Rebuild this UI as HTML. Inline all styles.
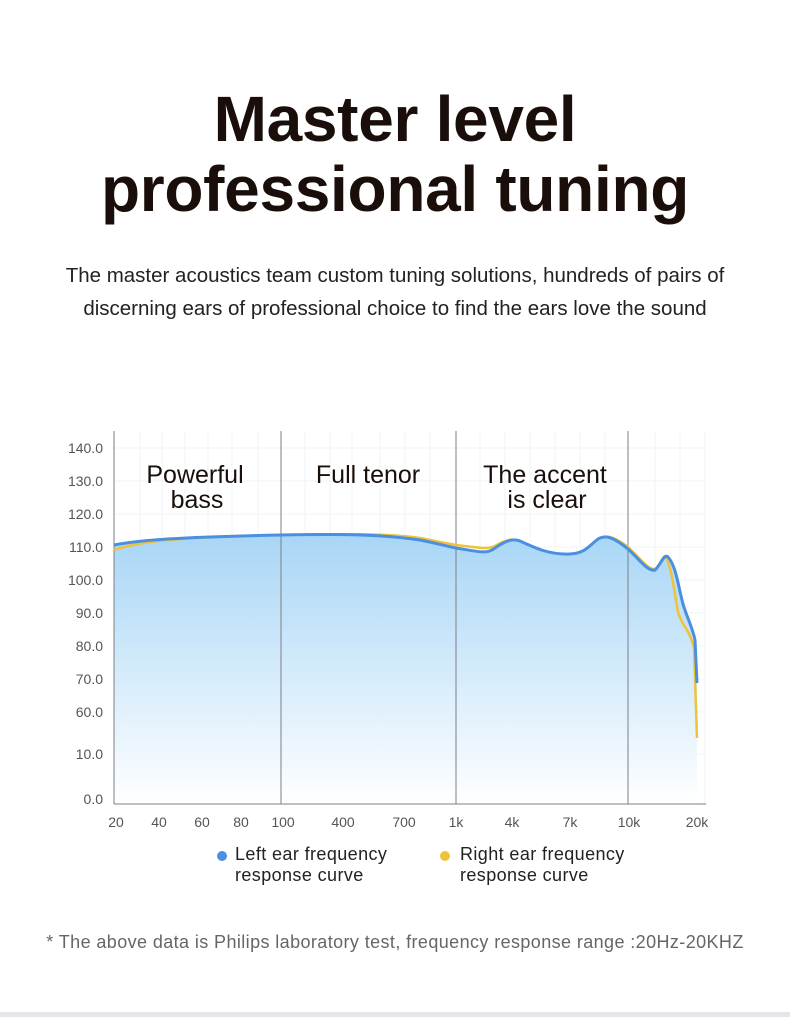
<!DOCTYPE html>
<html><head><meta charset="utf-8"><style>
body{margin:0;width:790px;height:1017px;background:#fff;font-family:"Liberation Sans",sans-serif;position:relative;overflow:hidden}
.t{position:absolute;left:0;width:790px;text-align:center;color:#1a0e0a;font-weight:bold;font-size:64px;letter-spacing:-0.3px;line-height:70px}
.s{position:absolute;left:0;width:790px;text-align:center;color:#222;font-size:20.5px;line-height:33px}
</style></head><body>
<div class="t" style="top:84px">Master level<br>professional tuning</div>
<div class="s" style="top:259px">The master acoustics team custom tuning solutions, hundreds of pairs of<br>discerning ears of professional choice to find the ears love the sound</div>
<svg width="790" height="1017" style="position:absolute;left:0;top:0" font-family="Liberation Sans, sans-serif">
<defs><linearGradient id="g" x1="0" y1="0" x2="0" y2="1"><stop offset="0" stop-color="#a8d6f6"/><stop offset="1" stop-color="#ffffff"/></linearGradient></defs>
<g stroke="#f2f3f5" stroke-width="1">
<line x1="114" y1="448" x2="706" y2="448"/><line x1="114" y1="481" x2="706" y2="481"/><line x1="114" y1="514" x2="706" y2="514"/><line x1="114" y1="547" x2="706" y2="547"/><line x1="114" y1="580" x2="706" y2="580"/><line x1="114" y1="613" x2="706" y2="613"/><line x1="114" y1="646" x2="706" y2="646"/><line x1="114" y1="679" x2="706" y2="679"/><line x1="114" y1="712" x2="706" y2="712"/><line x1="114" y1="754" x2="706" y2="754"/>
<line x1="140" y1="432" x2="140" y2="804"/><line x1="162" y1="432" x2="162" y2="804"/><line x1="185" y1="432" x2="185" y2="804"/><line x1="208" y1="432" x2="208" y2="804"/><line x1="232" y1="432" x2="232" y2="804"/><line x1="258" y1="432" x2="258" y2="804"/><line x1="305" y1="432" x2="305" y2="804"/><line x1="330" y1="432" x2="330" y2="804"/><line x1="352" y1="432" x2="352" y2="804"/><line x1="380" y1="432" x2="380" y2="804"/><line x1="405" y1="432" x2="405" y2="804"/><line x1="430" y1="432" x2="430" y2="804"/><line x1="480" y1="432" x2="480" y2="804"/><line x1="505" y1="432" x2="505" y2="804"/><line x1="530" y1="432" x2="530" y2="804"/><line x1="555" y1="432" x2="555" y2="804"/><line x1="580" y1="432" x2="580" y2="804"/><line x1="605" y1="432" x2="605" y2="804"/><line x1="655" y1="432" x2="655" y2="804"/><line x1="680" y1="432" x2="680" y2="804"/><line x1="705" y1="432" x2="705" y2="804"/>
</g>
<path d="M114,545 C140,540 180,537 281,535 C340,534 380,534 420,540 C440,544 450,547 456,548 C475,551 485,554 492,550 C505,541 512,538 520,541 C535,548 550,555 570,554 C585,553 588,547 598,539 C605,535 612,536 628,549 C640,560 648,572 655,570 C660,566 664,553 668,557 C676,566 678,585 682,600 C685,614 692,625 695,640 L697,680 L697,804 L114,804Z" fill="url(#g)"/>
<g stroke="#7d7f85" stroke-width="1"><line x1="114" y1="431" x2="114" y2="804"/><line x1="281" y1="431" x2="281" y2="804"/><line x1="456" y1="431" x2="456" y2="804"/><line x1="628" y1="431" x2="628" y2="804"/><line x1="114" y1="804" x2="706" y2="804"/></g>
<path d="M114,550 C140,541 180,537 281,535 C340,534 385,533 420,538 C440,542 450,544 456,545 C475,547 488,550 495,546 C505,540 512,538 520,541 C535,548 550,555 570,554 C585,553 588,547 598,539 C605,535 612,535 628,547 C640,558 648,570 655,569 C660,566 664,553 666,557 C672,570 674,590 678,612 C682,626 690,630 694,648 L697,738" fill="none" stroke="#eec23a" stroke-width="2.5"/>
<path d="M114,545 C140,540 180,537 281,535 C340,534 380,534 420,540 C440,544 450,547 456,548 C475,551 485,554 492,550 C505,541 512,538 520,541 C535,548 550,555 570,554 C585,553 588,547 598,539 C605,535 612,536 628,549 C640,560 648,572 655,570 C660,566 664,553 668,557 C676,566 678,585 682,600 C685,614 692,625 695,640 L697,683" fill="none" stroke="#4a8fe0" stroke-width="3"/>
<g font-size="14" fill="#555" text-anchor="end">
<text x="103" y="453">140.0</text><text x="103" y="486">130.0</text><text x="103" y="519">120.0</text><text x="103" y="552">110.0</text><text x="103" y="585">100.0</text><text x="103" y="618">90.0</text><text x="103" y="651">80.0</text><text x="103" y="684">70.0</text><text x="103" y="717">60.0</text><text x="103" y="759">10.0</text><text x="103" y="804">0.0</text>
</g>
<g font-size="14" fill="#555" text-anchor="middle">
<text x="116" y="827">20</text><text x="159" y="827">40</text><text x="202" y="827">60</text><text x="241" y="827">80</text><text x="283" y="827">100</text><text x="343" y="827">400</text><text x="404" y="827">700</text><text x="456" y="827">1k</text><text x="512" y="827">4k</text><text x="570" y="827">7k</text><text x="629" y="827">10k</text><text x="697" y="827">20k</text>
</g>
<g font-size="25" fill="#1a0e0a" text-anchor="middle">
<text x="195" y="483">Powerful</text><text x="197" y="508">bass</text>
<text x="368" y="483">Full tenor</text>
<text x="545" y="483">The accent</text><text x="547" y="508">is clear</text>
</g>
<circle cx="222" cy="856" r="5" fill="#4a8fe0"/><circle cx="445" cy="856" r="5" fill="#eec23a"/>
<g font-size="18" fill="#222" letter-spacing="0.4"><text x="235" y="860">Left ear frequency</text><text x="235" y="881">response curve</text><text x="460" y="860">Right ear frequency</text><text x="460" y="881">response curve</text></g>
<text x="395" y="948" text-anchor="middle" font-size="18" letter-spacing="0.4" fill="#666">* The above data is Philips laboratory test, frequency response range :20Hz-20KHZ</text>
<rect x="0" y="1012" width="790" height="5" fill="#e4e6ea"/>
</svg>
</body></html>
